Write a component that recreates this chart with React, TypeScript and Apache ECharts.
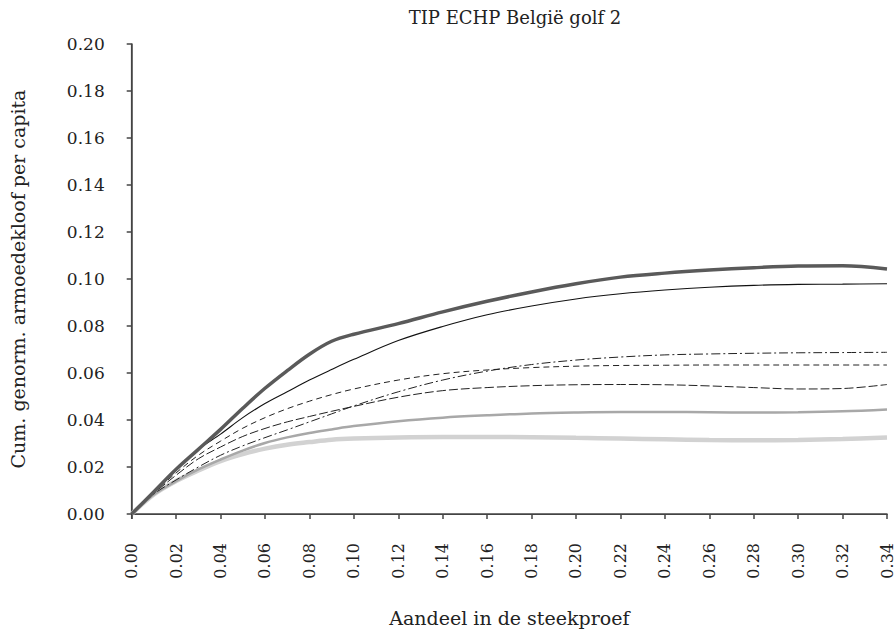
import React, { useEffect, useRef } from "react";
import * as echarts from "echarts";

// Share of the sample (x) and cumulative normalised poverty gap per capita (y)
const shares = [
  0, 0.01, 0.02, 0.03, 0.04, 0.05, 0.06, 0.07, 0.08, 0.09, 0.1, 0.12, 0.14,
  0.16, 0.18, 0.2, 0.22, 0.24, 0.26, 0.28, 0.3, 0.32, 0.34,
];

const curveThickDark = [
  0, 0.0095, 0.019, 0.0275, 0.036, 0.045, 0.0535, 0.061, 0.068, 0.0735, 0.0765,
  0.081, 0.086, 0.0905, 0.0945, 0.098, 0.1008, 0.1025, 0.1038, 0.1048, 0.1055,
  0.1056, 0.1043,
];
const curveThinSolid = [
  0, 0.0095, 0.019, 0.0275, 0.034, 0.041, 0.047, 0.052, 0.057, 0.0615, 0.0658,
  0.0738, 0.0798, 0.0848, 0.0885, 0.0915, 0.0937, 0.0953, 0.0965, 0.0973,
  0.0977, 0.0978, 0.098,
];
const curveDashed = [
  0, 0.009, 0.0175, 0.025, 0.031, 0.0365, 0.041, 0.0448, 0.048, 0.0508,
  0.0532, 0.057, 0.0597, 0.0613, 0.0623, 0.0629, 0.0632, 0.0633, 0.0634,
  0.0634, 0.0634, 0.0634, 0.0634,
];
const curveDashDot = [
  0, 0.0085, 0.0145, 0.02, 0.025, 0.029, 0.0325, 0.0358, 0.0392, 0.0426, 0.046,
  0.052, 0.057, 0.0608, 0.0636, 0.0655, 0.0668, 0.0677, 0.0681, 0.0684,
  0.0686, 0.0687, 0.0688,
];
const curveLongDash = [
  0, 0.0088, 0.0165, 0.0235, 0.0285, 0.033, 0.0364, 0.0392, 0.0415, 0.0437,
  0.0458, 0.0497, 0.0525, 0.0538, 0.0546, 0.055, 0.0551, 0.055, 0.0545,
  0.0538, 0.0532, 0.0534, 0.0551,
];
const curveMidGrey = [
  0, 0.0083, 0.014, 0.019, 0.0232, 0.027, 0.0302, 0.0326, 0.0345, 0.036,
  0.0374, 0.0395, 0.041, 0.042, 0.0428, 0.0432, 0.0434, 0.0434, 0.0433,
  0.0432, 0.0433, 0.0437, 0.0445,
];
const curveLightGrey = [
  0, 0.0083, 0.014, 0.0185, 0.0225, 0.0255, 0.0278, 0.0295, 0.0306, 0.0316,
  0.0321, 0.0326, 0.0328, 0.0328, 0.0327, 0.0324, 0.0321, 0.0318, 0.0315,
  0.0314, 0.0315, 0.0319, 0.0326,
];

const titleText = "TIP ECHP België golf 2";
const xName = "Aandeel in de steekproef";
const yName = "Cum. genorm. armoedekloof per capita";

const FONT = "'DejaVu Serif', serif";

const pair = (ys: number[]) => shares.map((x, i) => [x, ys[i]]);

export default function App() {
  const ref = useRef<HTMLDivElement>(null);

  useEffect(() => {
    if (!ref.current) return;
    const chart = echarts.init(ref.current, undefined, { renderer: "svg" });

    const line = (
      name: string,
      ys: number[],
      color: string,
      width: number,
      type: any
    ) => ({
      name,
      type: "line",
      data: pair(ys),
      smooth: 0.35,
      showSymbol: false,
      symbol: "none",
      lineStyle: { color, width, type },
      xAxisIndex: 0,
      yAxisIndex: 0,
    });

    chart.setOption({
      animation: false,
      backgroundColor: "#ffffff",
      title: {
        text: titleText,
        left: 510,
        top: 3,
        textAlign: "center",
        textStyle: {
          fontFamily: FONT,
          fontSize: 18,
          fontWeight: "normal",
          color: "#222",
        },
      },
      grid: { left: 131.7, right: 7.5, top: 44, bottom: 119 },
      xAxis: [
        {
          type: "value",
          min: 0,
          max: 0.34,
          interval: 0.02,
          position: "bottom",
          offset: 5,
          name: xName,
          nameLocation: "middle",
          nameGap: 89,
          nameTextStyle: { fontFamily: FONT, fontSize: 19, color: "#222" },
          axisLine: { show: true, lineStyle: { color: "#444", width: 1.5 } },
          axisTick: {
            show: true,
            inside: false,
            length: 5,
            lineStyle: { color: "#444", width: 1.5 },
          },
          axisLabel: {
            rotate: 90,
            margin: 24,
            fontFamily: FONT,
            fontSize: 16,
            color: "#222",
            formatter: (v: number) => v.toFixed(2),
          },
          splitLine: { show: false },
        },
        {
          type: "value",
          min: 0,
          max: 0.34,
          position: "top",
          axisLine: { show: true, lineStyle: { color: "#444", width: 1.2 } },
          axisTick: { show: false },
          axisLabel: { show: false },
          splitLine: { show: false },
        },
      ],
      yAxis: [
        {
          type: "value",
          min: 0,
          max: 0.2,
          interval: 0.02,
          position: "left",
          name: yName,
          nameLocation: "middle",
          nameGap: 104,
          nameTextStyle: { fontFamily: FONT, fontSize: 19, color: "#222" },
          axisLine: { show: true, lineStyle: { color: "#444", width: 1.5 } },
          axisTick: {
            show: true,
            inside: false,
            length: 5,
            lineStyle: { color: "#444", width: 1.5 },
          },
          axisLabel: {
            margin: 27,
            fontFamily: FONT,
            fontSize: 17,
            color: "#222",
            formatter: (v: number) => v.toFixed(2),
          },
          splitLine: { show: false },
        },
        {
          type: "value",
          min: 0,
          max: 0.2,
          position: "right",
          axisLine: { show: true, lineStyle: { color: "#444", width: 1.2 } },
          axisTick: { show: false },
          axisLabel: { show: false },
          splitLine: { show: false },
        },
      ],
      graphic: [
        {
          type: "line",
          shape: { x1: 131.7, y1: 513, x2: 131.7, y2: 519 },
          style: { stroke: "#444", lineWidth: 1.5 },
        },
      ],
      series: [
        line("lightGrey", curveLightGrey, "#d2d2d2", 4.5, "solid"),
        line("midGrey", curveMidGrey, "#a8a8a8", 2.5, "solid"),
        line("longDash", curveLongDash, "#222", 1, [9, 3]),
        line("dashDot", curveDashDot, "#222", 1, [9, 3, 2, 3]),
        line("dashed", curveDashed, "#222", 1, [6, 4]),
        line("thinSolid", curveThinSolid, "#111", 1.1, "solid"),
        line("thickDark", curveThickDark, "#5a5a5a", 3.5, "solid"),
      ],
    });

    return () => chart.dispose();
  }, []);

  return (
    <div
      ref={ref}
      style={{
        position: "fixed",
        left: 0,
        top: 0,
        width: 895,
        height: 633,
        background: "#fff",
      }}
    />
  );
}
